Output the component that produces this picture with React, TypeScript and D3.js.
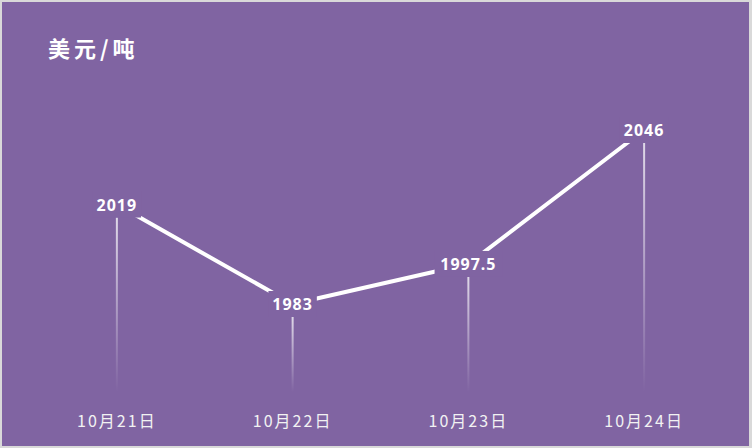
import React from "react";
import * as d3 from "d3";

const categories = ["10月21日", "10月22日", "10月23日", "10月24日"];
const values = [2019, 1983, 1997.5, 2046];
const valueLabels = ["2019", "1983", "1997.5", "2046"];
const title = "美元/吨";

const W = 752;
const H = 448;
const BG = "#8064a2";

export default function App() {
  const x = d3.scaleBand<string>().domain(categories).range([29, 732]).padding(0);
  const cx = (c: string) => (x(c) ?? 0) + x.bandwidth() / 2;
  const y = d3.scaleLinear().domain([1983, 2046]).range([304, 130]);
  const line = d3
    .line<number>()
    .x((_, i) => cx(categories[i]))
    .y((d) => y(d));

  const labelFont = "'Noto Sans', 'Liberation Sans', sans-serif";
  const cjkFont = "'Noto Sans CJK SC', 'Noto Sans', sans-serif";

  return (
    <svg width={W} height={H} style={{ display: "block", position: "absolute", left: 0, top: 0 }}>
      <defs>
        <linearGradient id="drop" x1="0" y1="0" x2="0" y2="1">
          <stop offset="0%" stopColor="#ffffff" stopOpacity={0.75} />
          <stop offset="100%" stopColor="#ffffff" stopOpacity={0} />
        </linearGradient>
      </defs>
      <rect x={0} y={0} width={W} height={H} fill="#d9d9d9" />
      <rect x={2} y={2} width={747} height={444} fill={BG} />
      <text x={48} y={47} fill="#ffffff" fontFamily={cjkFont} fontSize={22} fontWeight={700} letterSpacing={4} dominantBaseline="central">
        {title}
      </text>
      {values.map((v, i) => (
        <rect
          key={"d" + i}
          x={cx(categories[i]) - 1}
          y={y(v) + 13}
          width={2}
          height={392 - (y(v) + 13)}
          fill="url(#drop)"
        />
      ))}
      <path d={line(values) ?? ""} fill="none" stroke="#ffffff" strokeWidth={4} strokeLinejoin="round" />
      {values.map((v, i) => {
        const w = valueLabels[i].length * 9.6 + 10;
        return (
          <g key={"l" + i}>
            <rect x={cx(categories[i]) - w / 2} y={y(v) - 13} width={w} height={26} fill={BG} />
            <text
              x={cx(categories[i])}
              y={y(v)}
              fill="#ffffff"
              fontFamily={labelFont}
              fontWeight={700}
              fontSize={16}
              letterSpacing={1}
              textAnchor="middle"
              dominantBaseline="central"
            >
              {valueLabels[i]}
            </text>
          </g>
        );
      })}
      {categories.map((c) => (
        <text
          key={c}
          x={cx(c)}
          y={420}
          fill="#f2f2f2"
          fontFamily={cjkFont}
          fontSize={16}
          letterSpacing={2}
          textAnchor="middle"
          dominantBaseline="central"
        >
          {c}
        </text>
      ))}
    </svg>
  );
}
